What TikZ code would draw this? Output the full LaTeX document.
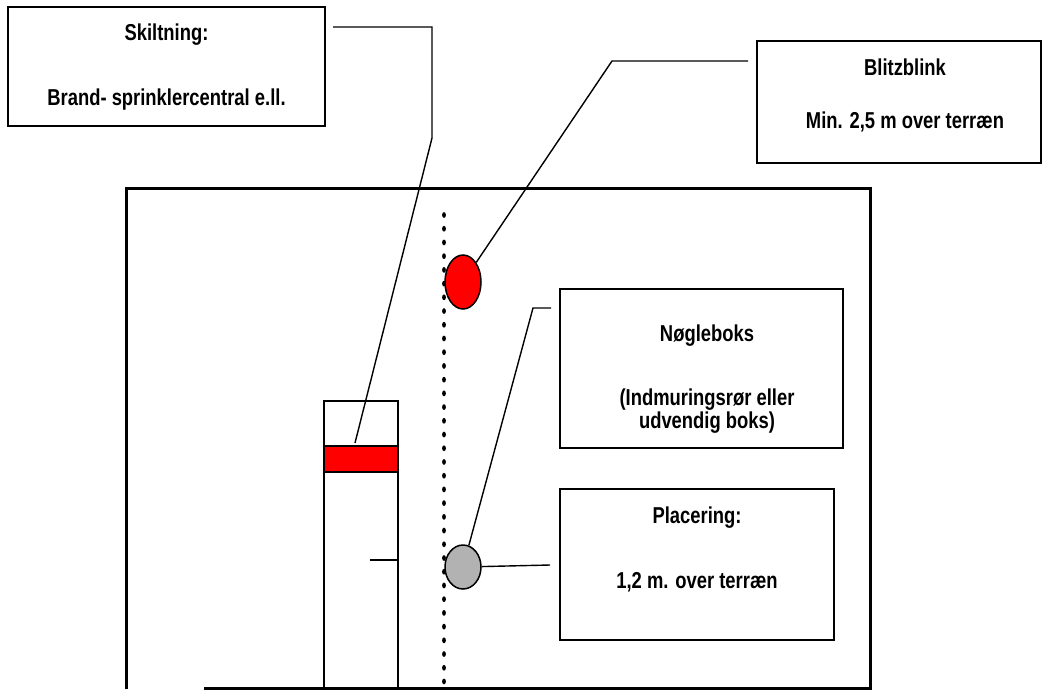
\documentclass[tikz,border=0pt]{standalone}
\usepackage{fontspec}
\setmainfont{Liberation Sans}[FakeStretch=0.8]
\usetikzlibrary{shapes}

\begin{document}
\begin{tikzpicture}[x=1pt,y=-1pt,semithick,
    font=\fontsize{23}{26}\selectfont\bfseries,
    infobox/.style={draw=black,line width=1.5pt,inner sep=0pt},
    lamp/.style={shape=ellipse,draw=black,line width=1.5pt,inner sep=0pt},
    leader/.style={line width=1.4pt}]
                \useasboundingbox (0,0) rectangle (1043,689);
                % building outline
                \draw[line width=3pt] (126,689) -- (126,188) -- (870,188) -- (870,688) -- (204,688);
                % boxes with text
                \node[infobox,minimum width=317pt,minimum height=119pt](signbox)at(166.5, 66.5){};
                \node[](signtitle)at(166.5, 35){Skiltning:};
                \node[](signtext)at(166.5, 100){Brand- sprinklercentral e.ll.};
                \node[infobox,minimum width=284pt,minimum height=122pt](blinkbox)at(899, 102){};
                \node[](blinktitle)at(905, 67){Blitzblink};
                \node[](blinktext)at(905, 122){Min. 2,5 m over terræn};
                \node[infobox,minimum width=283pt,minimum height=159pt](keybox1)at(701.5, 368.5){};
                \node[](keytitle)at(707, 336){Nøgleboks};
                \node[](keytext)at(707, 411.5){\begin{tabular}{@{}c@{}}(Indmuringsrør eller\\[-3pt]udvendig boks)\end{tabular}};
                \node[infobox,minimum width=274pt,minimum height=151pt](placebox)at(697, 564.5){};
                \node[](placetitle)at(697, 518){Placering:};
                \node[](placetext)at(697, 582){1,2 m. over terræn};
                % tower with red sign band
                \draw[line width=1.5pt] (324,689) -- (324,401) -- (398,401) -- (398,689);
                \node[draw=black,fill=red,line width=1.5pt,inner sep=0pt,minimum width=74pt,minimum height=26pt](band)at(361, 459){};
                \draw[line width=1.5pt] (370,560) -- (398,560);
                % dotted line
                \foreach \i in {0,...,34}
                    \fill (444,215+\i*13.72) ellipse (1.9pt and 2.9pt);
                % lamps
                \node[lamp,fill=red,minimum width=36pt,minimum height=54pt](blink)at(463, 282){};
                \node[lamp,fill=black!30,minimum width=36pt,minimum height=44pt](keybox)at(463, 567){};
                % leader lines
                \coordinate (signA) at (333,27);
                \coordinate (signB) at (432,27);
                \coordinate (signC) at (432,138);
                \coordinate (signtip) at (355,443);
                \coordinate (blinkA) at (748,61);
                \coordinate (blinkB) at (612,61);
                \coordinate (keyA) at (551,308);
                \coordinate (keyB) at (533,308);
                \coordinate (placeA) at (550,565);
                \draw[leader] (signA) -- (signB) -- (signC) -- (signtip);
                \draw[leader] (blinkA) -- (blinkB) -- (blink);
                \draw[leader] (keyA) -- (keyB) -- (keybox);
                \draw[leader] (keybox) -- (placeA);
            \end{tikzpicture}
\end{document}
